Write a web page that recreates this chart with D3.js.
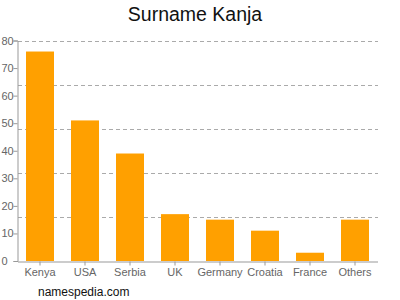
<!DOCTYPE html>
<html>
<head>
<meta charset="utf-8">
<script src="https://cdn.jsdelivr.net/npm/d3@7"></script>
<style>
  body { margin: 0; background: #fff; }
  text { font-family: "Liberation Sans", Arial, sans-serif; }
</style>
</head>
<body>
<svg id="chart" width="400" height="300"></svg>
<script>
var countries = ['Kenya', 'USA', 'Serbia', 'UK', 'Germany', 'Croatia', 'France', 'Others'];
var counts = [76, 51, 39, 17, 15, 11, 3, 15];
var yTicks = [0, 10, 20, 30, 40, 50, 60, 70, 80];
var gridValues = [16, 32, 48, 64, 80];

var svg = d3.select('#chart');

var x = d3.scaleBand()
  .domain(countries)
  .range([17.5, 377.5])
  .paddingInner(0.378)
  .paddingOuter(0.189);

var y = d3.scaleLinear()
  .domain([0, 80])
  .range([261, 40.5]);

// dashed grid
svg.append('g')
  .selectAll('line')
  .data(gridValues)
  .enter()
  .append('line')
  .attr('x1', 18)
  .attr('x2', 378)
  .attr('y1', d => Math.round(y(d)) + 0.5)
  .attr('y2', d => Math.round(y(d)) + 0.5)
  .attr('stroke', '#aaa')
  .attr('stroke-dasharray', '4,3');

// bars
svg.append('g')
  .selectAll('rect')
  .data(countries)
  .enter()
  .append('rect')
  .attr('x', d => x(d))
  .attr('width', x.bandwidth())
  .attr('y', (d, i) => y(counts[i]))
  .attr('height', (d, i) => y(0) - y(counts[i]))
  .attr('fill', '#ffa000');

// y axis
var yAxis = d3.axisLeft(y).tickValues(yTicks).tickSize(4).tickPadding(2);
var gy = svg.append('g')
  .attr('transform', 'translate(17.5,0)')
  .call(yAxis);
gy.select('.domain').attr('stroke', '#999');
gy.selectAll('.tick line').attr('stroke', '#999');
gy.selectAll('.tick text')
  .attr('fill', '#666')
  .style('font-size', '11px')
  .attr('text-anchor', 'start')
  .attr('x', -16);

// x axis
var xAxis = d3.axisBottom(x).tickSize(4).tickSizeOuter(0).tickPadding(3);
var gx = svg.append('g')
  .attr('transform', 'translate(0,261.5)')
  .call(xAxis);
gx.select('.domain').attr('stroke', '#999');
gx.selectAll('.tick line').attr('stroke', '#999');
gx.selectAll('.tick text')
  .attr('fill', '#666')
  .style('font-size', '11px');

// title
svg.append('text')
  .attr('x', 195)
  .attr('y', 21)
  .attr('text-anchor', 'middle')
  .style('font-size', '19.5px')
  .attr('fill', '#111')
  .text('Surname Kanja');

// footer
svg.append('text')
  .attr('x', 38)
  .attr('y', 296)
  .style('font-size', '12px')
  .attr('fill', '#111')
  .text('namespedia.com');
</script>
</body>
</html>
